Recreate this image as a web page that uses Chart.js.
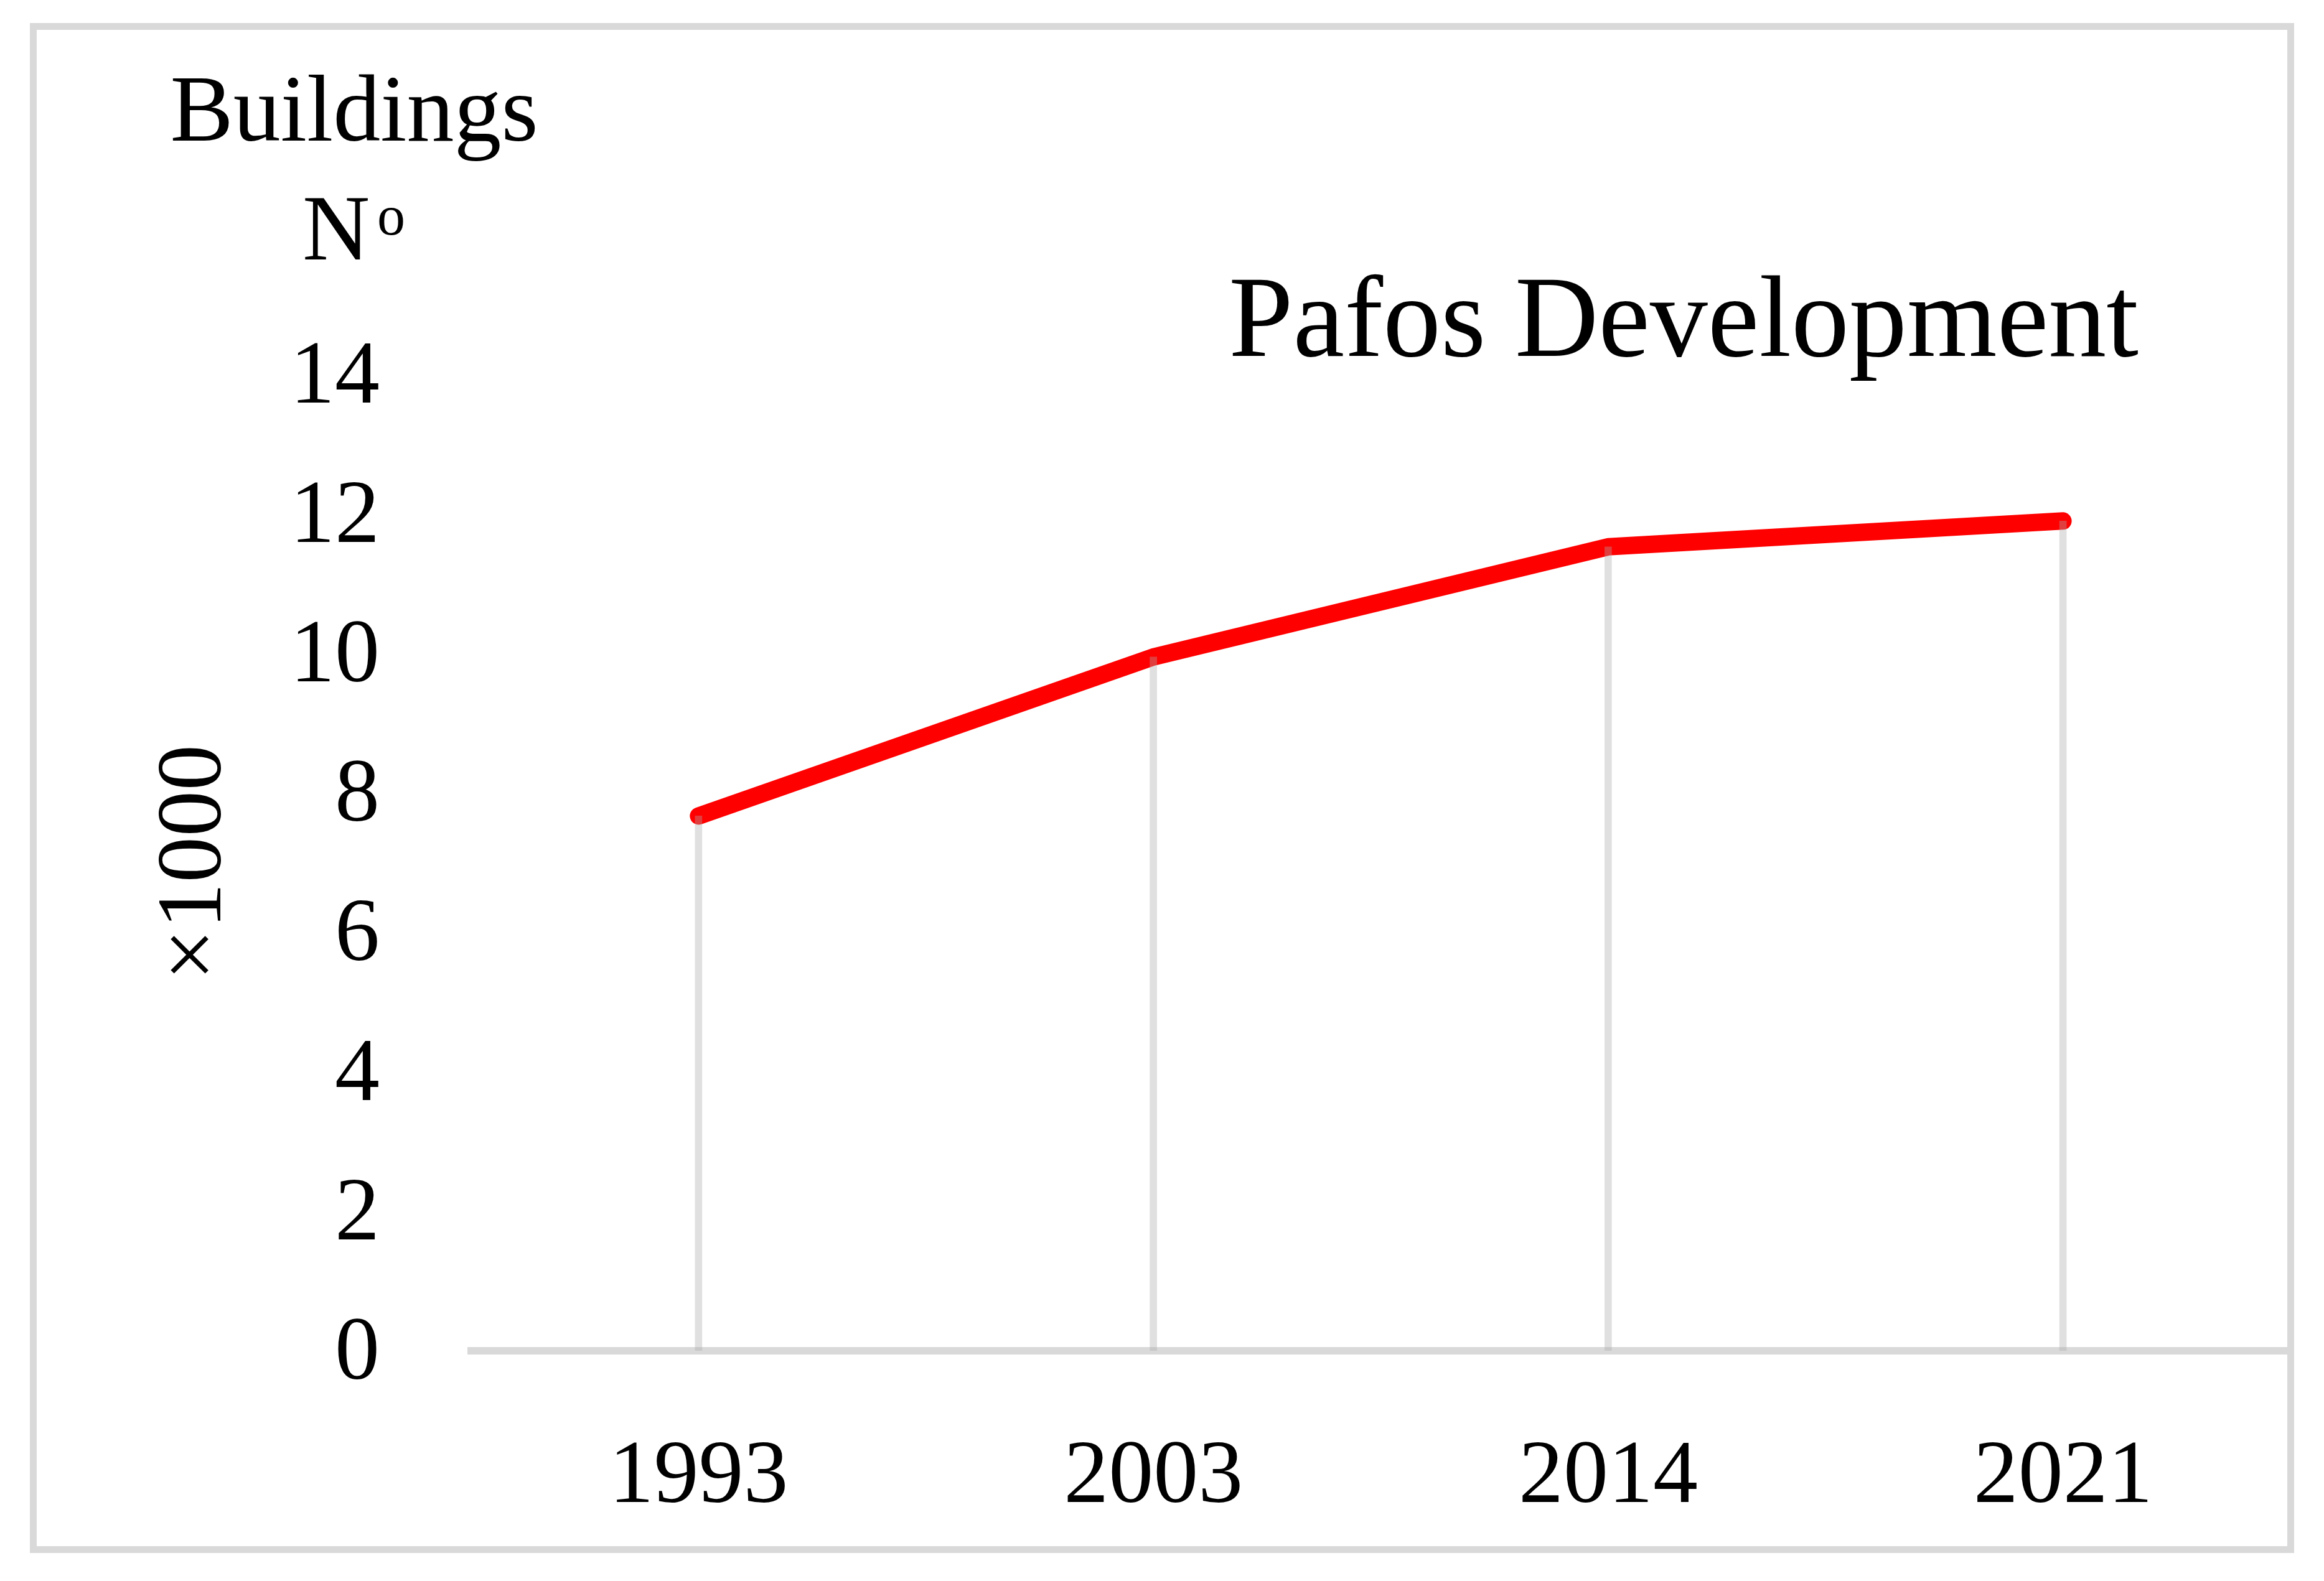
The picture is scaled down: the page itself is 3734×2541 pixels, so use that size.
<!DOCTYPE html>
<html>
<head>
<meta charset="utf-8">
<title>Pafos Development</title>
<script src="https://cdn.jsdelivr.net/npm/chart.js@4.4.0/dist/chart.umd.min.js"></script>
<style>
    html, body { margin: 0; padding: 0; background: #fff; }
    #frame {
        position: absolute; left: 48px; top: 37px;
        width: 3638px; height: 2459px;
        box-sizing: border-box; border: 11px solid #d9d9d9;
    }
    #wrap { position: absolute; left: 0; top: 0; width: 3734px; height: 2541px; }
</style>
</head>
<body>
<div id="frame"></div>
<div id="wrap"><canvas id="chart" width="3734" height="2541"></canvas></div>
<script>
// chart data (thousands of buildings)
const years = ['1993', '2003', '2014', '2021'];
const buildings = [7.67, 9.95, 11.53, 11.9];
const yMin = 0, yMax = 14, yStep = 2;

const chartTitle = 'Pafos Development';
const unitLabel = ['Buildings', 'N', 'o'];
const scaleLabel = '\u00d71000';

const FONT = "'Liberation Serif', 'Times New Roman', serif";

// extra texts in the top left / top right of the plot
const textPlugin = {
    id: 'texts',
    afterDraw: function (chart) {
        var ctx = chart.ctx;
        ctx.save();
        ctx.fillStyle = '#000';
        ctx.textBaseline = 'alphabetic';

        ctx.font = '152px ' + FONT;
        ctx.textAlign = 'center';
        ctx.fillText(unitLabel[0], 569, 226);

        ctx.textAlign = 'left';
        ctx.font = '150px ' + FONT;
        ctx.fillText(unitLabel[1], 486, 417);
        ctx.font = '90px ' + FONT;
        ctx.fillText(unitLabel[2], 606, 377);

        ctx.font = '186px ' + FONT;
        ctx.textAlign = 'right';
        ctx.fillText(chartTitle, 3436, 572);
        ctx.restore();
    }
};

new Chart(document.getElementById('chart'), {
    type: 'line',
    data: {
        labels: years,
        datasets: [
            {
                // drop lines
                type: 'bar',
                data: buildings,
                backgroundColor: 'rgba(170,170,170,0.37)',
                barThickness: 11,
                order: 1
            },
            {
                label: 'Buildings',
                data: buildings,
                borderColor: '#ff0000',
                borderWidth: 28,
                borderCapStyle: 'round',
                borderJoinStyle: 'round',
                tension: 0,
                pointRadius: 0,
                fill: false,
                order: 2
            }
        ]
    },
    options: {
        responsive: false,
        animation: false,
        layout: { padding: { left: 0, top: 602, right: 54, bottom: 0 } },
        plugins: {
            legend: { display: false },
            tooltip: { enabled: false }
        },
        scales: {
            x: {
                offset: true,
                grid: { display: false, drawTicks: false },
                border: { display: true, color: '#d9d9d9', width: 12 },
                ticks: {
                    color: '#000',
                    font: { family: FONT, size: 144 },
                    padding: 119,
                    maxRotation: 0
                },
                afterFit: function (scale) { scale.height = 370; }
            },
            y: {
                min: yMin,
                max: yMax,
                grid: { display: false, drawTicks: false },
                border: { display: false },
                ticks: {
                    stepSize: yStep,
                    color: '#000',
                    font: { family: FONT, size: 144 },
                    padding: 147,
                    labelOffset: 7
                },
                title: {
                    display: true,
                    text: scaleLabel,
                    color: '#000',
                    font: { family: FONT, size: 148 },
                    padding: { top: 226, bottom: 0 }
                },
                afterFit: function (scale) { scale.width = 757; }
            }
        }
    },
    plugins: [textPlugin]
});
</script>
</body>
</html>
